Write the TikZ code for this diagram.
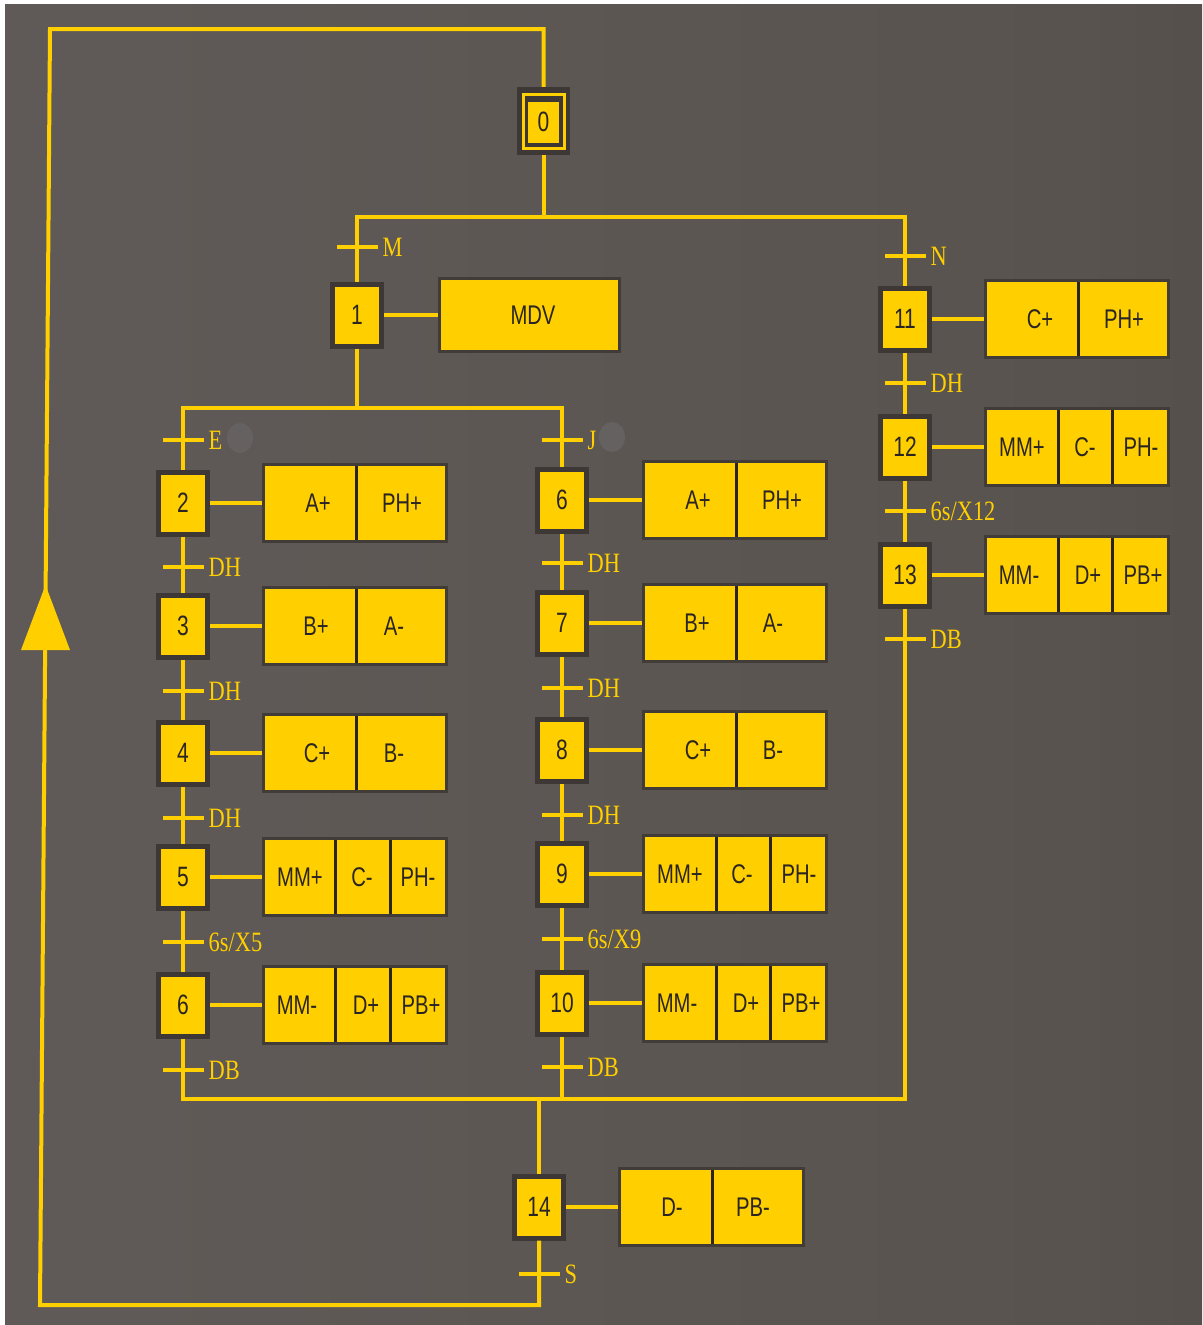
\documentclass[tikz,border=0pt]{standalone}
\usepackage{fontspec}
\newfontfamily\actfont[FakeStretch=0.75]{Liberation Sans}
\newfontfamily\lblfont[FakeStretch=0.8]{Liberation Serif}
\definecolor{ylw}{HTML}{FFCF00}
\definecolor{stepedge}{HTML}{3D3835}
\definecolor{actedge}{HTML}{423C39}
\definecolor{ink}{HTML}{2A2521}
\definecolor{bgL}{HTML}{5F5A57}
\definecolor{bgM}{HTML}{59534F}
\definecolor{bgR}{HTML}{453E3B}
\definecolor{blob}{HTML}{646160}
\pgfdeclarehorizontalshading{bgsh}{100bp}{color(0bp)=(bgL); color(30bp)=(bgL); color(70bp)=(bgM); color(100bp)=(bgR)}
\tikzset{
 link/.style={draw=ylw, line width=4pt, line join=miter},
 stp/.style={rectangle, fill=ylw, draw=stepedge, line width=5pt, minimum width=49pt, minimum height=62pt, inner sep=0pt, text=ink, font=\actfont\fontsize{28}{30}\selectfont},
 act/.style={rectangle, fill=ylw, draw=actedge, line width=3pt, minimum width=183pt, minimum height=77pt, inner sep=0pt},
 atxt/.style={inner sep=0pt, text=ink, font=\actfont\fontsize{27}{30}\selectfont},
 trn/.style={rectangle, fill=ylw, minimum width=41pt, minimum height=4pt, inner sep=0pt, outer sep=0pt},
 lbl/.style={inner sep=0pt, anchor=west, text=ylw, font=\lblfont\fontsize{28}{30}\selectfont},
 divl/.style={draw=ink, line width=3pt},
}
\begin{document}
\begin{tikzpicture}[x=1pt,y=-1pt]
\useasboundingbox (0,0) rectangle (1202,1325);
\fill[white] (0,0) rectangle (1202,1325);
\shade[shading=bgsh] (5,4) rectangle (1202,1325);

% grey blobs
\fill[blob] (240,438) ellipse [x radius=13pt, y radius=15pt];
\fill[blob] (612,437) ellipse [x radius=13pt, y radius=15pt];

% ---------- step 0 ----------
\node[rectangle, fill=stepedge, minimum width=53pt, minimum height=68pt, inner sep=0pt] (s0) at (543.5,121) {};
\draw[ylw, line width=3pt] (523.5,94.5) rectangle (564.5,148.5);
\fill[ylw] (528,102) rectangle (559,143);
\node[atxt, font=\actfont\fontsize{28}{30}\selectfont] (s0t) at (543.5,122) {0};

% ---------- steps ----------
\node[stp] (s1) at (357,315) {1};
\node[stp] (s2) at (183,503) {2};
\node[stp] (s3) at (183,626) {3};
\node[stp] (s4) at (183,753) {4};
\node[stp] (s5) at (183,877) {5};
\node[stp] (s6a) at (183,1005) {6};
\node[stp] (s6b) at (562,500) {6};
\node[stp] (s7) at (562,623) {7};
\node[stp] (s8) at (562,750) {8};
\node[stp] (s9) at (562,874) {9};
\node[stp] (s10) at (562,1003) {10};
\node[stp] (s11) at (905,319) {11};
\node[stp] (s12) at (905,447) {12};
\node[stp] (s13) at (905,575) {13};
\node[stp] (s14) at (539,1207) {14};

% ---------- transitions ----------
\node[trn] (tM) at (357,247) {};
\node[trn] (tN) at (905,256) {};
\node[trn] (tE) at (183,440) {};
\node[trn] (t2) at (183,567) {};
\node[trn] (t3) at (183,691) {};
\node[trn] (t4) at (183,818) {};
\node[trn] (t5) at (183,942) {};
\node[trn] (t6) at (183,1070) {};
\node[trn] (tJ) at (562,440) {};
\node[trn] (t6b) at (562,563) {};
\node[trn] (t7) at (562,688) {};
\node[trn] (t8) at (562,815) {};
\node[trn] (t9) at (562,939) {};
\node[trn] (t10) at (562,1067) {};
\node[trn] (t11) at (905,383) {};
\node[trn] (t12) at (905,511) {};
\node[trn] (t13) at (905,639) {};
\node[trn] (tS) at (539,1274) {};

\node[lbl] (lM) at ([xshift=5pt]tM.east) {M};
\node[lbl] (lN) at ([xshift=5pt]tN.east) {N};
\node[lbl] (lE) at ([xshift=5pt]tE.east) {E};
\node[lbl] (l2) at ([xshift=5pt]t2.east) {DH};
\node[lbl] (l3) at ([xshift=5pt]t3.east) {DH};
\node[lbl] (l4) at ([xshift=5pt]t4.east) {DH};
\node[lbl] (l5) at ([xshift=5pt]t5.east) {6s/X5};
\node[lbl] (l6) at ([xshift=5pt]t6.east) {DB};
\node[lbl] (lJ) at ([xshift=5pt]tJ.east) {J};
\node[lbl] (l6b) at ([xshift=5pt]t6b.east) {DH};
\node[lbl] (l7) at ([xshift=5pt]t7.east) {DH};
\node[lbl] (l8) at ([xshift=5pt]t8.east) {DH};
\node[lbl] (l9) at ([xshift=5pt]t9.east) {6s/X9};
\node[lbl] (l10) at ([xshift=5pt]t10.east) {DB};
\node[lbl] (l11) at ([xshift=5pt]t11.east) {DH};
\node[lbl] (l12) at ([xshift=5pt]t12.east) {6s/X12};
\node[lbl] (l13) at ([xshift=5pt]t13.east) {DB};
\node[lbl] (lS) at ([xshift=5pt]tS.east) {S};

% ---------- coordinates ----------
\coordinate (d1) at (543.5,217);
\coordinate (d1L) at (357,217);
\coordinate (d1R) at (905,217);
\coordinate (d2) at (357,408);
\coordinate (d2L) at (183,408);
\coordinate (d2R) at (562,408);
\coordinate (cL) at (183,1099);
\coordinate (cM) at (562,1099);
\coordinate (cJ) at (539,1099);
\coordinate (cR) at (905,1099);
\coordinate (tl) at (50,29);
\coordinate (bl) at (40,1305);

% ---------- links ----------
\draw[link] (s0) -- (d1);
\draw[link] (s1) -- (tM) -- (d1L) -- (d1R) -- (tN) -- (s11);
\draw[link] (s1) -- (d2);
\draw[link] (s2) -- (tE) -- (d2L) -- (d2R) -- (tJ) -- (s6b);
\draw[link] (s2) -- (t2) -- (s3) -- (t3) -- (s4) -- (t4) -- (s5) -- (t5) -- (s6a);
\draw[link] (s6b) -- (t6b) -- (s7) -- (t7) -- (s8) -- (t8) -- (s9) -- (t9) -- (s10);
\draw[link] (s11) -- (t11) -- (s12) -- (t12) -- (s13);
\draw[link] (s6a) -- (t6) -- (cL) -- (cR) -- (t13) -- (s13);
\draw[link] (s10) -- (t10) -- (cM);
\draw[link] (cJ) -- (s14);
\draw[link] (s14) -- (tS) -- (tS |- bl) -- (bl) -- (tl) -- (tl -| s0) -- (s0);
\fill[ylw] (45.5,585) -- (70,650) -- (21,650) -- cycle;

% ---------- action boxes ----------
\node[act, minimum width=180pt, minimum height=73pt] (aMDV) at (529.5,315) {};
\node[atxt] (aMDVt) at (533,315) {MDV};
\draw[link] (s1) -- (aMDV);

% left column
\node[act] (a2) at (355,503) {};
\draw[divl] (356,466) -- (356,540);
\node[atxt] (a2t1) at (318,503) {A+};
\node[atxt] (a2t2) at (402,503) {PH+};
\draw[link] (s2) -- (a2);

\node[act] (a3) at (355,626) {};
\draw[divl] (356,589) -- (356,663);
\node[atxt] (a3t1) at (316,626) {B+};
\node[atxt] (a3t2) at (394,626) {A-};
\draw[link] (s3) -- (a3);

\node[act] (a4) at (355,753) {};
\draw[divl] (356,716) -- (356,790);
\node[atxt] (a4t1) at (317,753) {C+};
\node[atxt] (a4t2) at (394,753) {B-};
\draw[link] (s4) -- (a4);

\node[act] (a5) at (355,877) {};
\draw[divl] (335,840) -- (335,914);
\draw[divl] (390,840) -- (390,914);
\node[atxt] (a5t1) at (300,877) {MM+};
\node[atxt] (a5t2) at (362,877) {C-};
\node[atxt] (a5t3) at (418,877) {PH-};
\draw[link] (s5) -- (a5);

\node[act] (a6a) at (355,1005) {};
\draw[divl] (335,968) -- (335,1042);
\draw[divl] (390,968) -- (390,1042);
\node[atxt] (a6at1) at (297,1005) {MM-};
\node[atxt] (a6at2) at (366,1005) {D+};
\node[atxt] (a6at3) at (421,1005) {PB+};
\draw[link] (s6a) -- (a6a);

% middle column
\node[act] (a6b) at (735,500) {};
\draw[divl] (736,463) -- (736,537);
\node[atxt] (a6bt1) at (698,500) {A+};
\node[atxt] (a6bt2) at (782,500) {PH+};
\draw[link] (s6b) -- (a6b);

\node[act] (a7) at (735,623) {};
\draw[divl] (736,586) -- (736,660);
\node[atxt] (a7t1) at (697,623) {B+};
\node[atxt] (a7t2) at (773,623) {A-};
\draw[link] (s7) -- (a7);

\node[act] (a8) at (735,750) {};
\draw[divl] (736,713) -- (736,787);
\node[atxt] (a8t1) at (698,750) {C+};
\node[atxt] (a8t2) at (773,750) {B-};
\draw[link] (s8) -- (a8);

\node[act] (a9) at (735,874) {};
\draw[divl] (716,837) -- (716,911);
\draw[divl] (770,837) -- (770,911);
\node[atxt] (a9t1) at (680,874) {MM+};
\node[atxt] (a9t2) at (742,874) {C-};
\node[atxt] (a9t3) at (799,874) {PH-};
\draw[link] (s9) -- (a9);

\node[act] (a10) at (735,1003) {};
\draw[divl] (716,966) -- (716,1040);
\draw[divl] (770,966) -- (770,1040);
\node[atxt] (a10t1) at (677,1003) {MM-};
\node[atxt] (a10t2) at (746,1003) {D+};
\node[atxt] (a10t3) at (801,1003) {PB+};
\draw[link] (s10) -- (a10);

% right column
\node[act] (a11) at (1077,319) {};
\draw[divl] (1078,282) -- (1078,356);
\node[atxt] (a11t1) at (1040,319) {C+};
\node[atxt] (a11t2) at (1124,319) {PH+};
\draw[link] (s11) -- (a11);

\node[act] (a12) at (1077,447) {};
\draw[divl] (1058,410) -- (1058,484);
\draw[divl] (1112,410) -- (1112,484);
\node[atxt] (a12t1) at (1022,447) {MM+};
\node[atxt] (a12t2) at (1085,447) {C-};
\node[atxt] (a12t3) at (1141,447) {PH-};
\draw[link] (s12) -- (a12);

\node[act] (a13) at (1077,575) {};
\draw[divl] (1058,538) -- (1058,612);
\draw[divl] (1112,538) -- (1112,612);
\node[atxt] (a13t1) at (1019,575) {MM-};
\node[atxt] (a13t2) at (1088,575) {D+};
\node[atxt] (a13t3) at (1143,575) {PB+};
\draw[link] (s13) -- (a13);

% bottom
\node[act, minimum width=184pt] (a14) at (711.5,1207) {};
\draw[divl] (712,1170) -- (712,1244);
\node[atxt] (a14t1) at (672,1207) {D-};
\node[atxt] (a14t2) at (753,1207) {PB-};
\draw[link] (s14) -- (a14);
\end{tikzpicture}
\end{document}
